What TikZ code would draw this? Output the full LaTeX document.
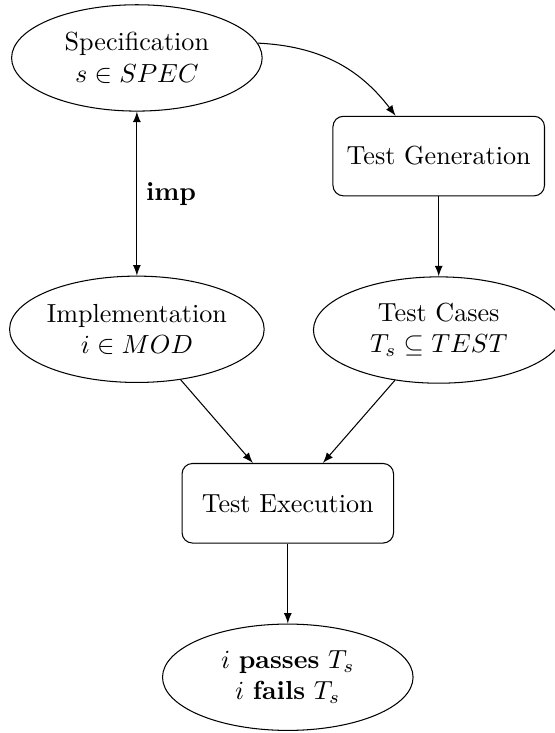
\documentclass[tikz,border=0pt]{standalone}
\usepackage{amsmath}
\usepackage{amssymb}
\usepackage{tikz}
\usetikzlibrary{arrows,shapes.geometric}

\begin{document}
\begin{tikzpicture}[->,>=latex,auto,node distance=2.34cm, thin]

    \tikzstyle{model}=[ellipse,draw=black,fill=white,align=center,inner sep=0pt,
                       minimum width=3.37cm,minimum height=1.43cm]
    \tikzstyle{activity}=[rectangle,rounded corners,draw=black,fill=white,
                          minimum width=2.845cm,minimum height=1.07cm]

    \useasboundingbox (-1.841,-9.080) rectangle (5.623,0.779);

    \node[model]    (spec)                      {Specification\\$s \in SPEC$};
    \node[activity] (gen)    at (4.06,-1.32)    {Test Generation};
    \node[model]    (impl)   at (0,-3.65)       {Implementation\\$i \in MOD$};
    \node[model]    (cases)  [below of = gen]   {Test Cases\\$T_s \subseteq TEST$};
    \node[activity] (exec)   at (2.03,-5.99)    {Test Execution};
    \node[model]    (result) [below of = exec]  {$i$ \textbf{passes} $T_s$\\$i$ \textbf{fails} $T_s$};

    \path (spec)  edge [bend left=25] (gen)
          (spec)  edge [<->] node {\textbf{imp}} (impl)
          (gen)   edge (cases)
          (impl)  edge (exec)
          (cases) edge (exec)
          (exec)  edge (result)
    ;
\end{tikzpicture}
\end{document}
